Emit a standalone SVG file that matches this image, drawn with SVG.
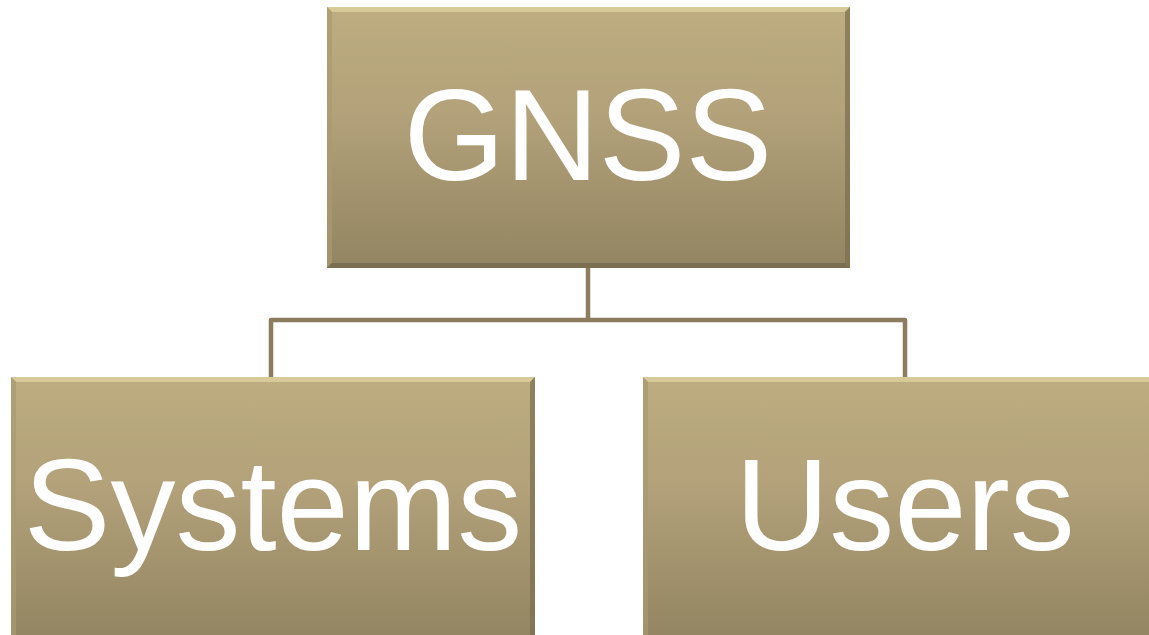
<svg xmlns="http://www.w3.org/2000/svg" width="1149" height="635" viewBox="0 0 1149 635">
<style>
.lbl{font-family:"Liberation Sans",Arial,sans-serif;font-size:130px;fill:#ffffff;text-anchor:middle}
.conn{fill:none;stroke:#8C7D5E;stroke-width:4.5;stroke-linejoin:round}
.bt{fill:#E3D5A2;opacity:0.7}
.bl{fill:#A89A70;opacity:0.7}
.bb{fill:#6E6448;opacity:0.7}
.br{fill:#7A6E4F;opacity:0.7}
</style>
<defs>
<linearGradient id="g" x1="0" y1="0" x2="0" y2="1">
<stop offset="0" stop-color="#BDAD80"/>
<stop offset="0.4" stop-color="#B3A27A"/>
<stop offset="1" stop-color="#938562"/>
</linearGradient>
</defs>
<g id="connectors">
<path class="conn" d="M588,268 V320 M271,377 V320 H905 V377"/>
</g>
<g id="gnss">
<rect x="327" y="7" width="523" height="261" fill="url(#g)"/>
<polygon class="bt" points="327,7 850,7 845,12 332,12"/>
<polygon class="bl" points="327,7 332,12 332,263 327,268"/>
<polygon class="bb" points="327,268 332,263 845,263 850,268"/>
<polygon class="br" points="850,7 850,268 845,263 845,12"/>
<text class="lbl" x="588" y="180">GNSS</text>
</g>
<g id="systems">
<rect x="11" y="377" width="524" height="262" fill="url(#g)"/>
<polygon class="bt" points="11,377 535,377 530,382 16,382"/>
<polygon class="bl" points="11,377 16,382 16,639 11,639"/>
<polygon class="br" points="535,377 535,639 530,639 530,382"/>
<text class="lbl" x="273" y="550">Systems</text>
</g>
<g id="users">
<rect x="643" y="377" width="512" height="262" fill="url(#g)"/>
<polygon class="bt" points="643,377 1155,377 1150,382 648,382"/>
<polygon class="bl" points="643,377 648,382 648,639 643,639"/>
<text class="lbl" x="905" y="550">Users</text>
</g>
</svg>
